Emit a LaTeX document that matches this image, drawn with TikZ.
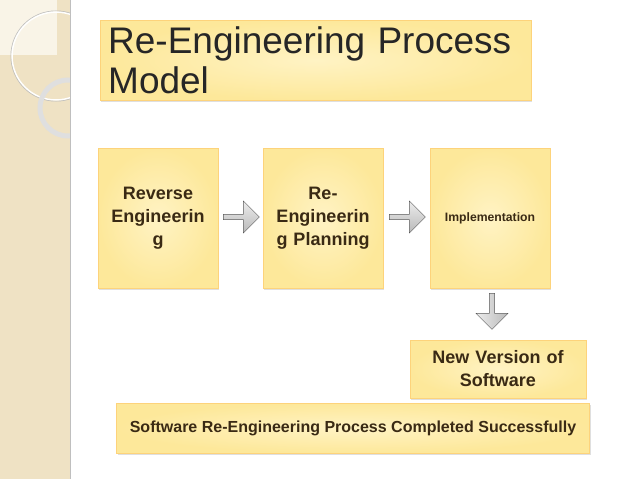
\documentclass[tikz,border=0pt]{standalone}
\usepackage{fontspec}
\setmainfont{Liberation Sans}
\usetikzlibrary{shapes.arrows,shadows}
\definecolor{strip}{HTML}{EFE2C4}
\definecolor{boxfill}{HTML}{FDE89A}
\definecolor{boxin}{HTML}{FFF3C4}
\definecolor{txt}{HTML}{3A2A14}
\tikzset{
  box/.style={draw=boxfill!80!orange, fill=boxfill, inner color=boxin, outer color=boxfill, drop shadow={opacity=0.25,shadow xshift=1pt,shadow yshift=-1.5pt}, text=txt, font=\bfseries, align=center},
  arr/.style={single arrow, draw=gray!70!black, top color=gray!15, bottom color=gray!55, minimum height=36pt, minimum width=32pt, single arrow head extend=6pt, inner sep=1pt}
}
\begin{document}
\begin{tikzpicture}[x=1pt,y=-1pt]
\useasboundingbox (0,0) rectangle (638,479);
\fill[white] (0,0) rectangle (638,479);
\fill[strip] (0,0) rectangle (70,479);
\begin{scope}
\clip (0,0) rectangle (70,479);
\fill[white!60!strip] (0,0) rectangle (57,55);
\draw[white, line width=1.5pt] (56,56) circle (44);
\draw[gray!50, line width=0.6pt] (56,56) circle (45.2);
\draw[gray!25, line width=5pt] (68,108) circle (28);
\end{scope}
\draw[gray!50, line width=0.8pt] (70,0) -- (70,479);
\node[box, text=black!85, font=\fontsize{37}{40}\selectfont, align=left, anchor=north west, minimum width=425pt, minimum height=80pt, text width=415pt, inner sep=5pt, inner xsep=8pt] (title) at (100,20) {Re-Engineering Process\\Model};
\node[box, font=\bfseries\fontsize{18}{23}\selectfont, minimum width=120pt, minimum height=140pt, text width=116pt, inner sep=1pt] (rev) at (158,218) {Reverse\\Engineerin\\g};
\node[box, font=\bfseries\fontsize{18}{23}\selectfont, minimum width=120pt, minimum height=140pt, text width=116pt, inner sep=1pt] (reeng) at (323,218) {Re-\\Engineerin\\g Planning};
\node[box, font=\bfseries\fontsize{12.2}{14}\selectfont, minimum width=120pt, minimum height=140pt, text width=116pt, inner sep=1pt] (impl) at (490,218) {Implementation};
\node[box, font=\bfseries\fontsize{18}{23}\selectfont, minimum width=176pt, minimum height=58pt, text width=170pt, inner sep=2pt] (newv) at (498,369) {New Version of\\Software};
\node[box, font=\bfseries\fontsize{16}{18}\selectfont, minimum width=473pt, minimum height=50pt, inner sep=2pt] (done) at (353,428) {Software Re-Engineering Process Completed Successfully};
\node[arr] (a1) at (240,217) {};
\node[arr] (a2) at (406,217) {};
\node[arr, rotate=-90, shading angle=90] (a3) at (492,310) {};
\end{tikzpicture}
\end{document}
